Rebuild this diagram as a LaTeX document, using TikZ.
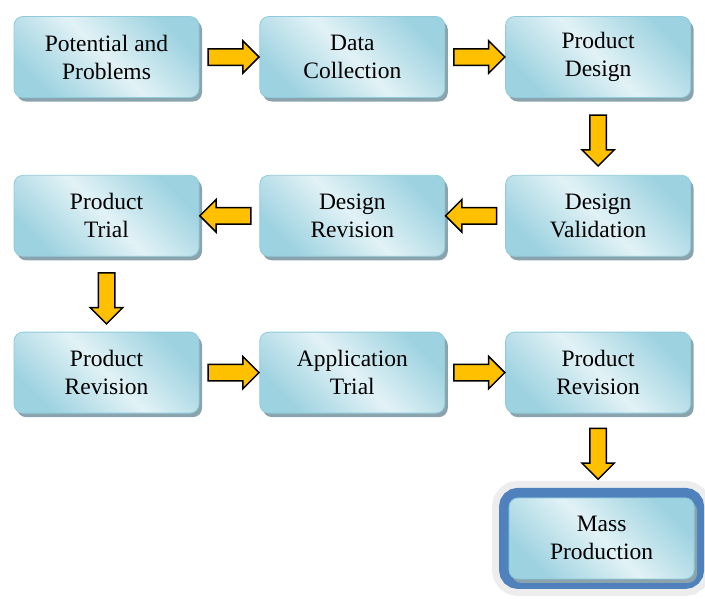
\documentclass[tikz,border=0pt]{standalone}
\usepackage{fontspec}
\setmainfont{Liberation Serif}
\usetikzlibrary{positioning}
\usetikzlibrary{shapes.arrows}
\usetikzlibrary{shadows}
\definecolor{boxlight}{HTML}{E2F2F6}
\definecolor{boxdark}{HTML}{9DD2E0}
\definecolor{boxline}{HTML}{8FCBDB}
\definecolor{boxshadow}{HTML}{8AA3AD}
\definecolor{arrowfill}{HTML}{FFC000}
\definecolor{frameblue}{HTML}{4F81BD}
\definecolor{framegray}{HTML}{EDEDED}
\tikzset{
  stagebase/.style={rectangle,rounded corners=9pt,draw=boxline,thick,
    minimum width=185pt,minimum height=81pt,align=center,
    font=\fontsize{23.5}{28}\selectfont,
    top color=boxdark,bottom color=boxdark,middle color=boxlight,
    shading angle=-45},
  shadowed/.style={drop shadow={shadow xshift=3pt,shadow yshift=-4pt,
      fill=boxshadow,opacity=1}},
  stage/.style={shadowed,stagebase},
  final/.style={preaction={draw=framegray,line width=34pt},
    preaction={draw=frameblue,line width=20pt},shadowed,stagebase},
  flow/.style={single arrow,draw=black,line width=1.5pt,fill=arrowfill,
    inner xsep=0pt,inner ysep=7.5pt,minimum height=51pt,
    single arrow head extend=8pt,single arrow head indent=0pt,
    sloped,allow upside down,midway}
}
\begin{document}
\begin{tikzpicture}
  \useasboundingbox (0,0) rectangle (705pt,-598pt);
  \node (potential) at (106.5pt,-57pt) [stage] {Potential and\\Problems};
  \node (collection) [stage,right=60pt of potential] {Data\\Collection};
  \node (design) [stage,right=60pt of collection] {Product\\Design};
  \node (validation) [stage,below=77pt of design] {Design\\Validation};
  \node (revision) [stage,left=60pt of validation] {Design\\Revision};
  \node (trial) [stage,left=60pt of revision] {Product\\Trial};
  \node (prodrev) [stage,below=75pt of trial] {Product\\Revision};
  \node (apptrial) [stage,right=60pt of prodrev] {Application\\Trial};
  \node (finalrev) [stage,right=60pt of apptrial] {Product\\Revision};
  \node (mass) [final,below=84pt of finalrev,xshift=3.5pt] {Mass\\Production};
  \path (potential) -- node[flow] {} (collection);
  \path (collection) -- node[flow] {} (design);
  \path (design) -- node[flow] {} (validation);
  \path (validation) -- node[flow] {} (revision);
  \path (revision) -- node[flow] {} (trial);
  \path (trial) -- node[flow] {} (prodrev);
  \path (prodrev) -- node[flow] {} (apptrial);
  \path (apptrial) -- node[flow] {} (finalrev);
  \path (finalrev.south) -- node[flow,pos=0.43] {} (finalrev.south |- mass.north);
\end{tikzpicture}
\end{document}
